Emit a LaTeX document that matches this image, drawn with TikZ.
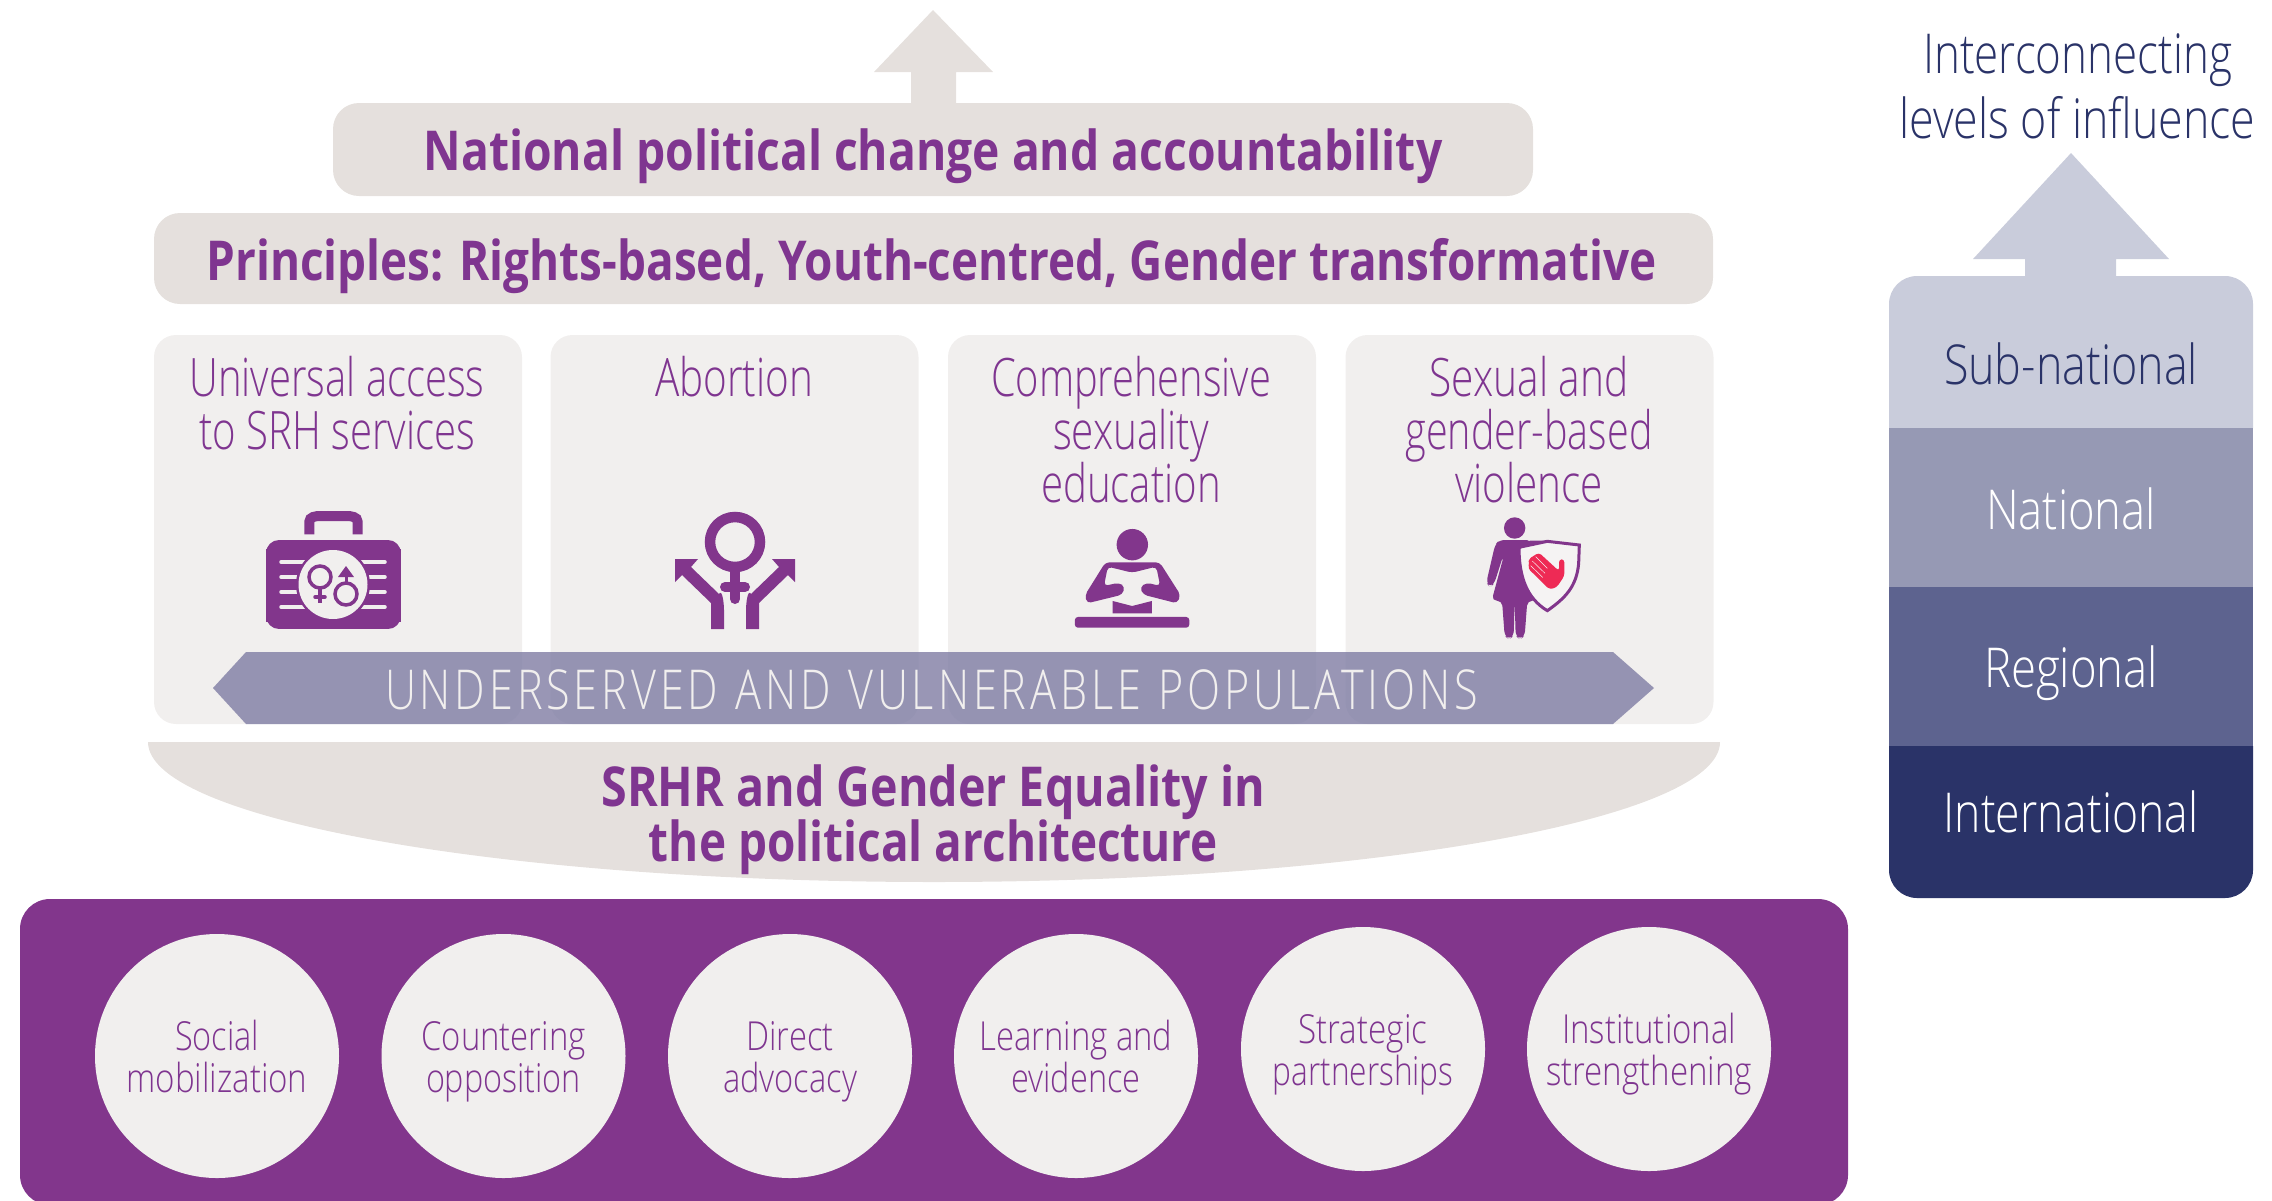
\documentclass[tikz,border=0pt]{standalone}
\usepackage{graphicx}
\usepackage{fontspec}
\IfFontExistsTF{Open Sans Light}{\newfontfamily\lightf{Open Sans Light}\newfontfamily\ribbonf{Open Sans Light}[LetterSpace=9,WordSpace=1.15]}{\newfontfamily\lightf{Open Sans}\newfontfamily\ribbonf{Open Sans}[LetterSpace=9,WordSpace=1.15]}
\setmainfont{Open Sans}
\definecolor{purp}{HTML}{82368C}
\definecolor{ptext}{HTML}{7F3590}
\definecolor{cardc}{HTML}{F1EFEE}
\definecolor{beige}{HTML}{E5E0DD}
\definecolor{lvA}{HTML}{C9CCDB}
\definecolor{lvB}{HTML}{9699B4}
\definecolor{lvC}{HTML}{5D638F}
\definecolor{lvD}{HTML}{2A3368}
\definecolor{ribbonc}{HTML}{7F7CA3}
\definecolor{handc}{HTML}{EE2A55}
\definecolor{shieldc}{HTML}{F5F3F3}
\newcommand{\fw}[2]{\resizebox{#1pt}{\height}{#2}}
\newcommand{\nolsk}{\lineskiplimit=-100pt\relax}
\tikzset{
  box/.style={inner sep=0pt,outer sep=0pt,draw=none},
  bar/.style={box,fill=beige,rounded corners=26pt},
  card/.style={box,fill=cardc,rounded corners=22pt,minimum width=368pt,minimum height=389pt},
  circ/.style={box,circle,fill=cardc,minimum size=244pt},
  tl/.style={inner sep=0pt,anchor=base,align=center},
  bigb/.style={tl,text=ptext,font=\bfseries\fontsize{55}{55}\selectfont\nolsk},
  cardt/.style={tl,text=ptext,font=\lightf\fontsize{53}{53}\selectfont\nolsk},
  circt/.style={tl,text=ptext,font=\lightf\fontsize{40}{42}\selectfont\nolsk},
  lvl/.style={tl,font=\lightf\fontsize{55}{65}\selectfont\nolsk},
}
\begin{document}
\begin{tikzpicture}[x=1pt,y=-1pt]
\clip (0,0) rectangle (2272,1200);
% top arrow and bars
\fill[beige] (933,10) -- (993,72) -- (956,72) -- (956,110) -- (911,110) -- (911,72) -- (874,72) -- cycle;
\node[bar,minimum width=1200pt,minimum height=93pt] (natbar) at (933,149.5) {};
\node[bigb] (nattext) at (933,170) {\fw{1019}{National political change and accountability}};
\node[bar,minimum width=1559pt,minimum height=91pt] (prinbar) at (933.5,258.5) {};
\node[bigb] (printext) at (931.5,280) {\fw{1450}{Principles: Rights-based, Youth-centred, Gender transformative}};
% cards
\node[card] (card1) at (338,529.5) {};
\node[card] (card2) at (734.5,529.5) {};
\node[card] (card3) at (1132,529.5) {};
\node[card] (card4) at (1529.5,529.5) {};
\node[cardt] (t1) at (337,449) {\fw{295}{Universal access}\\\fw{276}{to SRH services}};
\node[cardt] (t2) at (734,396) {\fw{158}{Abortion}};
\node[cardt] (t3) at (1131,502) {\fw{280}{Comprehensive}\\\fw{156}{sexuality}\\\fw{180}{education}};
\node[cardt] (t4) at (1529,502) {\fw{199}{Sexual and}\\\fw{247}{gender-based}\\\fw{148}{violence}};
% briefcase and abortion icons
\begin{scope}[shift={(200,480)},x=0.4464pt,y=-0.3333pt]
  \draw[purp,line width=10pt] (245,163) -- (245,125) to[out=90,in=180] (270,108) -- (328,108) to[out=0,in=90] (353,125) -- (353,163);
  \fill[purp,rounded corners=13pt] (148,180) rectangle (450,447);
\end{scope}
\foreach \yy in {562,577,592,607}{
  \draw[cardc,line width=3.5pt,line cap=round] (281,\yy) -- (385,\yy);
}
\fill[purp] (333,584.5) circle [radius=37pt];
\fill[purp] (266,549) rectangle (401,556);
\fill[purp] (266,613) rectangle (401,622);
\fill[cardc] (333,584.5) circle [radius=34.5pt];
\draw[purp,line width=3.5pt] (320,577) circle [radius=11pt];
\draw[purp,line width=3.5pt] (320,588) -- (320,603);
\draw[purp,line width=3.5pt,line cap=round] (315,597) -- (325,597);
\draw[purp,line width=3.5pt] (346,594) circle [radius=11pt];
\draw[purp,line width=3pt] (346,583) -- (346,572);
\fill[purp] (346,566) -- (354,577) -- (338,577) -- cycle;
\draw[purp,line width=10.5pt] (735,542) circle [radius=25pt];
\draw[purp,line width=10pt,line cap=round] (735,567) -- (735,599);
\draw[purp,line width=10pt,line cap=round] (725,587) -- (745,587);
\fill[purp] (711,629) -- (711,603) -- (682,575) -- (675,582) -- (675,559) -- (698,559) -- (691,567) -- (719,594) to[out=60,in=90] (724,610) -- (724,629) -- cycle;
\fill[purp] (759,629) -- (759,603) -- (788,575) -- (795,582) -- (795,559) -- (772,559) -- (779,567) -- (751,594) to[out=120,in=90] (746,610) -- (746,629) -- cycle;
% reader icon
\begin{scope}[shift={(960,480)},x=0.4847pt,y=-0.3333pt]
  \fill[purp] (355.5,194) ellipse [x radius=15.7pt,y radius=15.7pt];
  \fill[purp,rounded corners=3pt] (237,443) -- (237,411) -- (473,411) -- (473,443) -- cycle;
  \fill[purp,rounded corners=4pt] (300,247) -- (258,345) -- (262,370) -- (335,344) -- (340,320) -- (328,308) -- (297,318) -- (305,260) -- (355,278) -- (405,260) -- (413,318) -- (385,308) -- (371,322) -- (378,344) -- (448,370) -- (455,345) -- (412,247) -- cycle;
  \fill[purp] (315,363) -- (355,378) -- (396,363) -- (396,400) -- (315,400) -- cycle;
\end{scope}
% woman with shield
\begin{scope}[shift={(1440,500)},x=0.3333pt,y=-0.3333pt]
  \fill[purp] (224,84) ellipse [x radius=10.7pt,y radius=10.7pt];
  \fill[purp,rounded corners=5pt] (178,120) -- (275,120) -- (300,302) -- (262,302) -- (254,408) -- (240,418) -- (227,408) -- (224,302) -- (221,408) -- (207,418) -- (194,408) -- (186,302) -- (155,302) -- (192,165) -- (190,165) -- (163,250) -- (150,262) -- (139,248) -- (165,135) -- cycle;
  \filldraw[draw=purp,fill=shieldc,line width=3pt] (237,142) -- (322,124) -- (418,135) -- (416,190) .. controls (410,260) and (375,295) .. (322,332) .. controls (260,295) and (237,230) .. (237,142) -- cycle;
  \fill[purp] (232,140) -- (270,122) -- (322,122) -- (260,135) -- (241,146) -- cycle;
  \fill[handc,rounded corners=3pt] (297,158) -- (357,213) -- (357,178) -- (373,178) -- (373,228) -- (350,262) -- (328,268) -- (264,205) -- (268,190) -- (265,178) -- (280,168) -- cycle;
  \draw[shieldc,line width=0.5pt] (287,170) -- (322,205) (277,183) -- (315,220) (272,197) -- (308,232);
\end{scope}
% ribbon
\fill[ribbonc,opacity=.8] (213,688) -- (246,652) -- (1613,652) -- (1654,688) -- (1613,724) -- (246,724) -- cycle;
\node[tl,text=cardc,font=\ribbonf\fontsize{55}{65}\selectfont] (ribbontext) at (931.5,709) {\fw{1093}{UNDERSERVED AND VULNERABLE POPULATIONS}};
% bowl
\fill[beige] (148,742) -- (1720,742) .. controls (1720,819) and (1367,882) .. (934,882) .. controls (501,882) and (148,819) .. (148,742) -- cycle;
\node[bigb] (srhr) at (933.5,861) {\fw{664}{SRHR and Gender Equality in}\\\fw{569}{the political architecture}};
% strategy band
\node[box,fill=purp,rounded corners=30pt,minimum width=1828pt,minimum height=306pt] (band) at (934,1052) {};
\node[circ] (c1) at (217,1056) {};
\node[circ] (c2) at (503.5,1056) {};
\node[circ] (c3) at (790,1056) {};
\node[circ] (c4) at (1076,1056) {};
\node[circ] (c5) at (1363,1049) {};
\node[circ] (c6) at (1649,1049) {};
\node[circt] (ct1) at (217,1092) {\fw{84}{Social}\\\fw{181}{mobilization}};
\node[circt] (ct2) at (503.5,1092) {\fw{164}{Countering}\\\fw{155}{opposition}};
\node[circt] (ct3) at (790,1092) {\fw{87}{Direct}\\\fw{134}{advocacy}};
\node[circt] (ct4) at (1076,1092) {\fw{193}{Learning and}\\\fw{129}{evidence}};
\node[circt] (ct5) at (1363,1085) {\fw{129}{Strategic}\\\fw{181}{partnerships}};
\node[circt] (ct6) at (1649,1085) {\fw{174}{Institutional}\\\fw{206}{strengthening}};
% levels column
\fill[lvA] (2071,153) -- (2169,259) -- (2116,259) -- (2116,285) -- (2025,285) -- (2025,259) -- (1973,259) -- cycle;
\fill[lvA] (1889,428) -- (1889,304) arc[start angle=180,end angle=90,radius=28pt] -- (2225,276) arc[start angle=90,end angle=0,radius=28pt] -- (2253,428) -- cycle;
\fill[lvB] (1889,428) rectangle (2253,587);
\fill[lvC] (1889,587) rectangle (2253,746);
\fill[lvD] (1889,746) -- (2253,746) -- (2253,870) arc[start angle=0,end angle=-90,radius=28pt] -- (1917,898) arc[start angle=-90,end angle=-180,radius=28pt] -- cycle;
\node[lvl,text=lvD] (head) at (2077.5,138) {\fw{309}{Interconnecting}\\\fw{356}{levels of influence}};
\node[lvl,text=lvD] (l1) at (2071,384) {\fw{254}{Sub-national}};
\node[lvl,text=white] (l2) at (2071,529) {\fw{170}{National}};
\node[lvl,text=white] (l3) at (2071,687) {\fw{174}{Regional}};
\node[lvl,text=white] (l4) at (2071,832) {\fw{255}{International}};
\end{tikzpicture}
\end{document}
